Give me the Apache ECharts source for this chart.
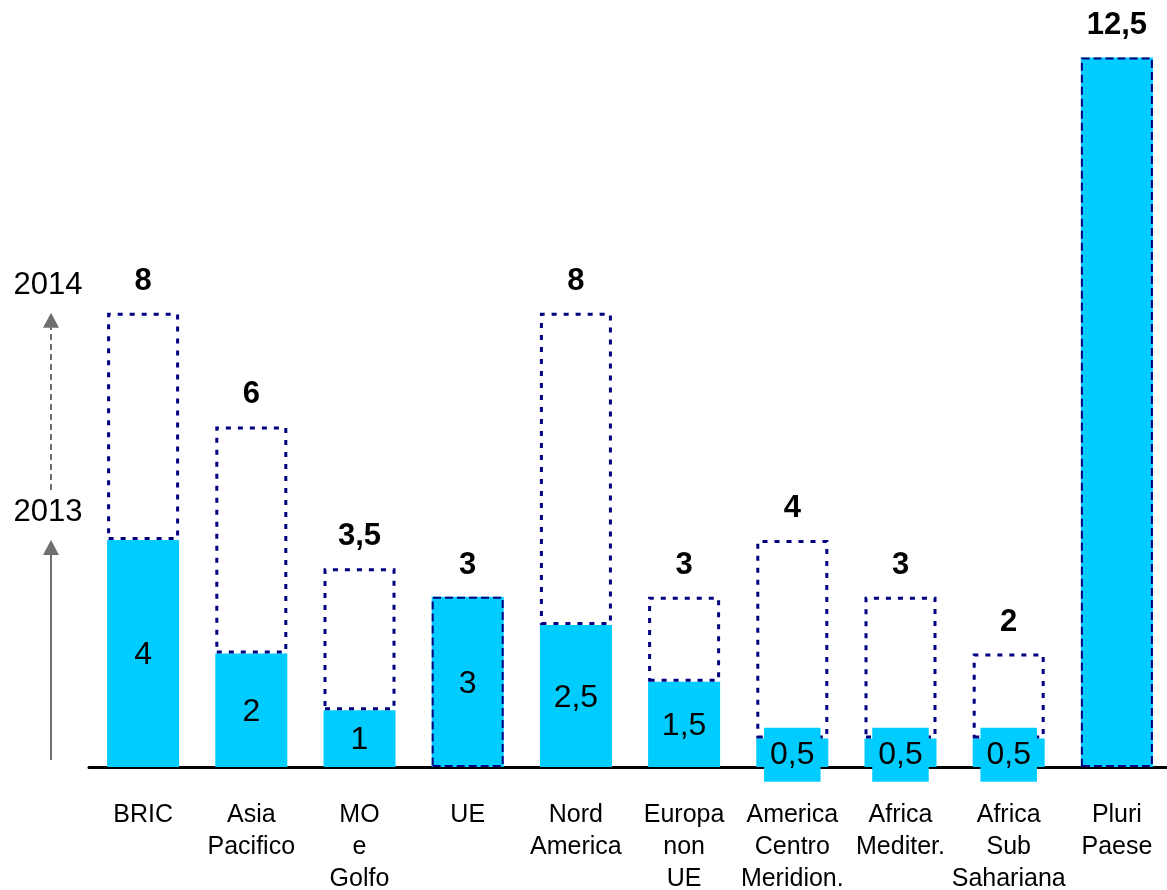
<!DOCTYPE html>
<html>
<head>
<meta charset="utf-8">
<title>Investimenti per area geografica 2013-2014</title>
<script src="https://cdn.jsdelivr.net/npm/echarts@6/dist/echarts.min.js"></script>
<style>
  html, body { margin: 0; padding: 0; background: #ffffff; overflow: hidden; }
  #chart { width: 1167px; height: 890px; }
</style>
</head>
<body>
<div id="chart"></div>
<script>
// Aree geografiche (etichette su più righe)
const categories = [
  'BRIC', 'Asia\nPacifico', 'MO\ne\nGolfo', 'UE', 'Nord\nAmerica',
  'Europa\nnon\nUE', 'America\nCentro\nMeridion.', 'Africa\nMediter.',
  'Africa\nSub\nSahariana', 'Pluri\nPaese'
];
// Valori 2013 (barre piene)
const values2013 = [4, 2, 1, 3, 2.5, 1.5, 0.5, 0.5, 0.5, 12.5];
// Valori 2014 (contorno tratteggiato)
const values2014 = [8, 6, 3.5, 3, 8, 3, 4, 3, 2, 12.5];
// Etichetta interna visibile sulla barra 2013
const innerLabel = [true, true, true, true, true, true, true, true, true, false];

const CYAN = '#00CCFF';
const NAVY = '#000080';
const CLEAR = 'rgba(0,0,0,0)';
const FONT = '"Liberation Sans", Arial, sans-serif';
const fmt = v => String(v).replace('.', ',');

const chart = echarts.init(document.getElementById('chart'), null, { renderer: 'canvas' });

// Incremento 2014 sopra il valore 2013
const increment = values2014.map((v, i) => {
  const d = v - values2013[i];
  return d > 0 ? d : '-';
});

// Etichette interne 2013; i valori piccoli hanno un riquadro ciano
const labels2013 = values2013.map((v, i) => {
  const item = { value: v };
  if (!innerLabel[i]) {
    item.label = { show: false };
  } else if (v < 1) {
    item.label = { backgroundColor: CYAN, padding: [11, 6, 11, 6] };
  }
  return item;
});

// Totale 2014: etichetta in alto; contorno solo dove 2014 = 2013
const totals2014 = values2014.map((v, i) => {
  const same = v === values2013[i];
  return {
    value: v,
    itemStyle: same
      ? { color: CLEAR, borderColor: NAVY, borderWidth: 2, borderType: [8, 4] }
      : { color: CLEAR, borderWidth: 0 }
  };
});

const option = {
  backgroundColor: '#ffffff',
  animation: false,
  textStyle: { fontFamily: FONT },
  grid: {
    left: 89, width: 1082, top: 29, bottom: 123,
    containLabel: false, outerBoundsMode: 'none'
  },
  xAxis: {
    type: 'category',
    data: categories,
    axisLine: { show: true, onZero: true, lineStyle: { color: '#000', width: 3 } },
    axisTick: { show: false },
    axisLabel: {
      color: '#000', fontSize: 25, fontFamily: FONT,
      lineHeight: 32, margin: 32, interval: 0
    },
    splitLine: { show: false }
  },
  yAxis: {
    type: 'value', min: 0, max: 13, show: false,
    splitLine: { show: false }
  },
  series: [
    {
      name: '2013', type: 'bar', stack: 'tot', barWidth: 72, barGap: '-100%',
      data: values2013,
      itemStyle: { color: CYAN },
      z: 2
    },
    {
      name: '2014', type: 'bar', stack: 'tot', barWidth: 72, barGap: '-100%',
      data: increment,
      itemStyle: {
        color: CLEAR, borderColor: NAVY, borderWidth: 3,
        borderType: [5, 7]
      },
      z: 3
    },
    {
      name: '2014 totale', type: 'bar', barWidth: 72, barGap: '-100%',
      data: totals2014,
      label: {
        show: true, position: 'top', distance: 16, color: '#000',
        fontSize: 31, fontWeight: 'bold', fontFamily: FONT,
        formatter: p => fmt(p.value)
      },
      z: 4
    },
    {
      // strato trasparente che porta le etichette 2013 sopra i contorni
      name: '2013 etichette', type: 'bar', barWidth: 72, barGap: '-100%',
      data: labels2013,
      itemStyle: { color: CLEAR, borderWidth: 0 },
      label: {
        show: true, position: 'inside', offset: [0, 2], color: '#000',
        fontSize: 32, fontFamily: FONT, formatter: p => fmt(p.value)
      },
      z: 5
    }
  ]
};

chart.setOption(option);

// Frecce laterali 2013 / 2014, ancorate ai valori della prima area
const ax = 51;
const GREY = '#6f6f6f';
const y0 = chart.convertToPixel({ yAxisIndex: 0 }, 0);
const y13 = chart.convertToPixel({ yAxisIndex: 0 }, values2013[0]);
const y14 = chart.convertToPixel({ yAxisIndex: 0 }, values2014[0]);
const head = 15, half = 8;

chart.setOption({
  graphic: [
    {
      type: 'line', silent: true,
      shape: { x1: ax, y1: y0 - 7, x2: ax, y2: y13 + head - 1 },
      style: { stroke: GREY, lineWidth: 2 }
    },
    {
      type: 'polygon', silent: true,
      shape: { points: [[ax, y13], [ax - half, y13 + head], [ax + half, y13 + head]] },
      style: { fill: GREY }
    },
    {
      type: 'text', silent: true, x: ax - 3, y: y13 - 27,
      style: { text: '2013', font: '31px ' + FONT, fill: '#000', align: 'center', verticalAlign: 'middle' }
    },
    {
      type: 'line', silent: true,
      shape: { x1: ax, y1: y13 - 50, x2: ax, y2: y14 + head - 1 },
      style: { stroke: GREY, lineWidth: 2, lineDash: [6, 4] }
    },
    {
      type: 'polygon', silent: true,
      shape: { points: [[ax, y14], [ax - half, y14 + head], [ax + half, y14 + head]] },
      style: { fill: GREY }
    },
    {
      type: 'text', silent: true, x: ax - 3, y: y14 - 27,
      style: { text: '2014', font: '31px ' + FONT, fill: '#000', align: 'center', verticalAlign: 'middle' }
    }
  ]
});
</script>
</body>
</html>
